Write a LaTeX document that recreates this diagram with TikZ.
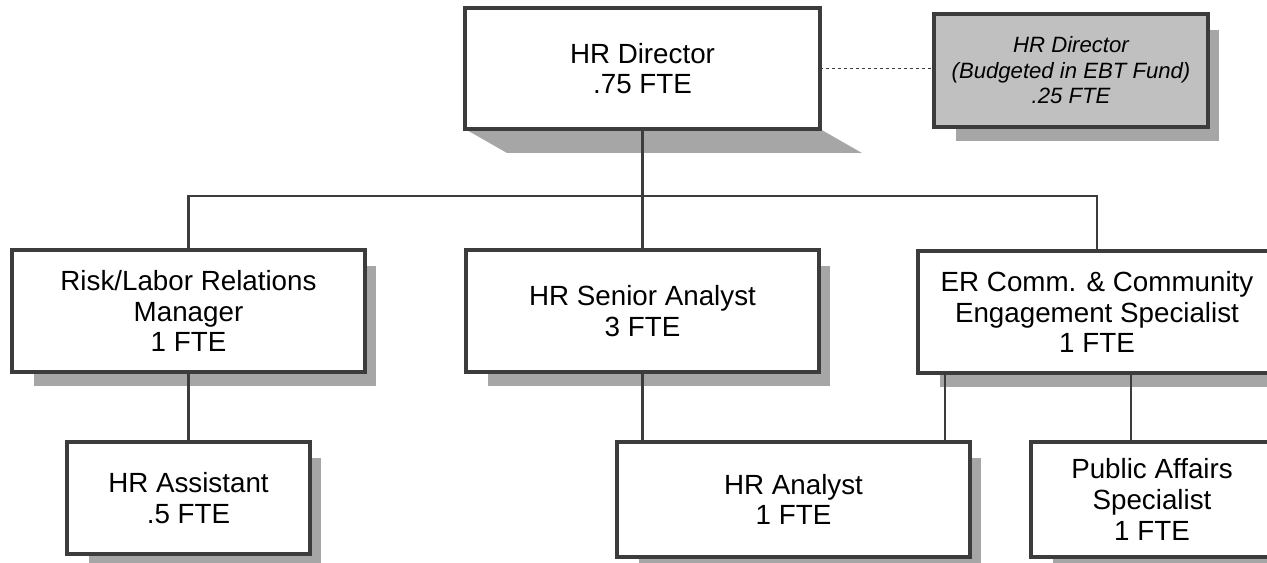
\documentclass[tikz,border=0pt]{standalone}
\usepackage{fontspec}
\setmainfont{Liberation Sans}
\usetikzlibrary{backgrounds}
\definecolor{boxline}{HTML}{3C3C3C}
\definecolor{shadowgray}{HTML}{A6A6A6}
\definecolor{fundgray}{HTML}{C0C0C0}

\begin{document}
\begin{tikzpicture}[x=0.02cm,y=-0.02cm,
  post/.style={draw=boxline,line width=1.8pt,fill=white,align=center,inner sep=2pt,outer sep=0pt,
    font=\fontsize{15.8}{17.5}\selectfont},
  link/.style={draw=boxline,line width=1.3pt}]
\tikzstyle{fund post} = [post,fill=fundgray,font=\itshape\fontsize{12.6}{14.5}\selectfont]
\tikzstyle{shadow box} = [fill=shadowgray]

\useasboundingbox (0,0) rectangle (1267,562);

% top row
\node[post,minimum width=7.1cm,minimum height=2.42cm] (dir) at (642.5,68.5) {HR Director\\.75 FTE};
\node[fund post,minimum width=5.48cm,minimum height=2.26cm] (ebt) at (1071,70.5) {HR Director\\(Budgeted in EBT Fund)\\.25 FTE};

% middle row
\node[post,minimum width=7.06cm,minimum height=2.44cm] (risk) at (188.5,311) {Risk/Labor Relations\\Manager\\1 FTE};
\node[post,minimum width=7.06cm,minimum height=2.44cm] (senior) at (642.5,311) {HR Senior Analyst\\3 FTE};
\node[post,minimum width=7.16cm,minimum height=2.44cm] (er) at (1097,312) {ER Comm. \& Community\\Engagement Specialist\\1 FTE};

% bottom row
\node[post,minimum width=4.86cm,minimum height=2.24cm] (asst) at (188.5,498) {HR Assistant\\.5 FTE};
\node[post,minimum width=7.06cm,minimum height=2.3cm] (analyst) at (793.5,499.5) {HR Analyst\\1 FTE};
\node[post,minimum width=4.84cm,minimum height=2.3cm] (public) at (1152,499.5) {Public Affairs\\Specialist\\1 FTE};

% shadows
\begin{pgfonlayer}{background}
\fill[shadow box] (dir.south west) -- (dir.south east) -- ++(42,24) -- ([shift={(42,24)}]dir.south west) -- cycle;
\foreach \b in {ebt,risk,senior,er,asst,analyst,public}
  \fill[shadow box] ([shift={(22,16)}]\b.north west) rectangle ([shift={(11,14)}]\b.south east);
\end{pgfonlayer}

% links
\coordinate (bus) at (642.5,196);
\draw[link] (dir.south) -- (senior.north);
\draw[link] (risk.north) |- (bus) -| (er.north);
\draw[link] (risk.south) -- (asst.north);
\draw[link] (senior.south) -- (senior.south |- analyst.north);
\draw[link] ([shift={(27,0)}]er.south west) coordinate (erleft) -- (erleft |- analyst.north);
\draw[link] ([shift={(100,0)}]public.north west) coordinate (paup) -- (paup |- er.south);
\draw[boxline,line width=1pt,dash pattern=on 2pt off 1.4pt] (dir.east) -- (dir.east -| ebt.west);

\end{tikzpicture}
\end{document}
